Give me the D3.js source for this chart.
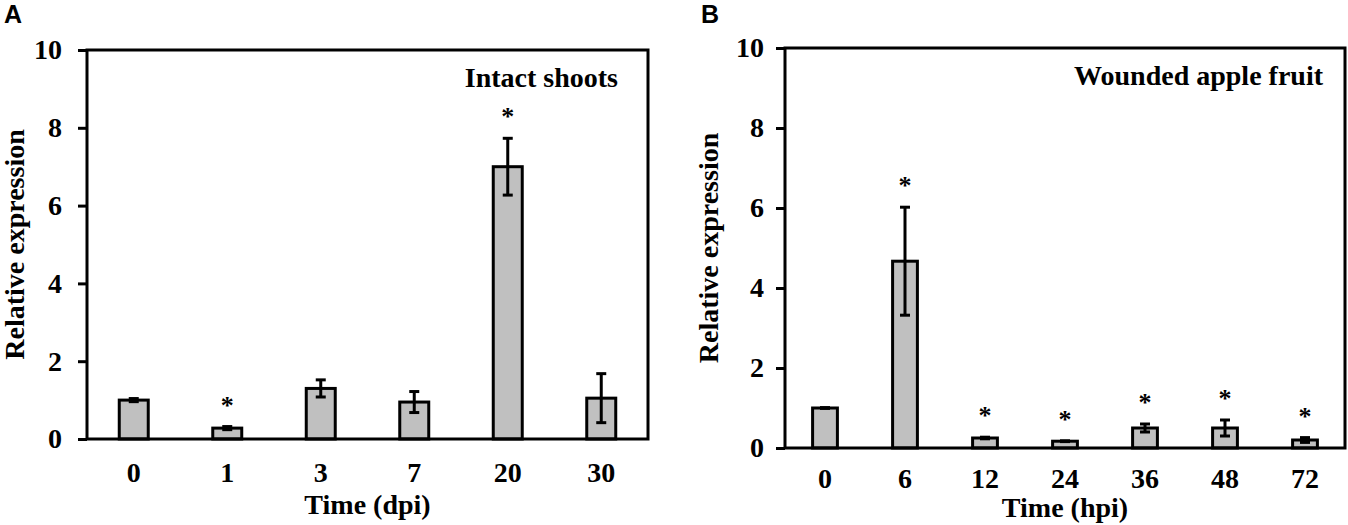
<!DOCTYPE html>
<html>
<head>
<meta charset="utf-8">
<script src="https://cdn.jsdelivr.net/npm/d3@7"></script>
<style>
  body { margin: 0; background: #fff; }
  text { font-family: "Liberation Serif", "Times New Roman", serif; font-weight: bold; fill: #000; }
  .panel-letter { font-family: "Liberation Sans", Arial, sans-serif; font-size: 25px; }
</style>
</head>
<body>
<div id="chart"></div>
<script>
// panel A - intact shoots, days post inoculation
const shootTimes = ['0', '1', '3', '7', '20', '30'];
const shootExpr = [1.0, 0.28, 1.3, 0.95, 7.0, 1.05];
const shootErr = [0.04, 0.04, 0.22, 0.27, 0.73, 0.63];
const shootSig = [false, true, false, false, true, false];

// panel B - wounded apple fruit, hours post inoculation
const fruitTimes = ['0', '6', '12', '24', '36', '48', '72'];
const fruitExpr = [1.0, 4.67, 0.25, 0.17, 0.5, 0.5, 0.2];
const fruitErr = [0.01, 1.35, 0.02, 0.01, 0.1, 0.2, 0.06];
const fruitSig = [false, true, true, true, true, true, true];

const yTicks = [0, 2, 4, 6, 8, 10];

const svg = d3.select('#chart')
              .append('svg')
              .attr('width', 1348)
              .attr('height', 525);

function drawPanel(p) {
    const g = svg.append('g');

    const x = d3.scaleBand()
                .domain(p.times)
                .range([p.left, p.right])
                .paddingInner(0.69)
                .paddingOuter(0.345);

    const y = d3.scaleLinear()
                .domain([0, 10])
                .range([p.bottom, p.top]);

    const rows = p.times.map((t, i) => ({t: t, v: p.expr[i], e: p.err[i], sig: p.sig[i]}));

    // bars
    g.append('g').selectAll('rect').data(rows)
     .join('rect')
     .attr('x', d => x(d.t))
     .attr('y', d => y(d.v))
     .attr('width', x.bandwidth())
     .attr('height', d => y(0) - y(d.v))
     .attr('fill', '#c0c0c0')
     .attr('stroke', '#000')
     .attr('stroke-width', 3);

    // error bars
    const err = g.append('g').selectAll('g').data(rows).join('g')
                 .attr('stroke', '#000')
                 .attr('stroke-width', 3);
    const cx = d => x(d.t) + x.bandwidth() / 2;
    err.append('line')
       .attr('x1', cx).attr('x2', cx)
       .attr('y1', d => y(d.v - d.e)).attr('y2', d => y(d.v + d.e));
    err.append('line')
       .attr('x1', d => cx(d) - 5).attr('x2', d => cx(d) + 5)
       .attr('y1', d => y(d.v + d.e)).attr('y2', d => y(d.v + d.e));
    err.append('line')
       .attr('x1', d => cx(d) - 5).attr('x2', d => cx(d) + 5)
       .attr('y1', d => y(d.v - d.e)).attr('y2', d => y(d.v - d.e));

    // significance stars
    g.append('g').selectAll('text').data(rows.filter(d => d.sig))
     .join('text')
     .attr('x', cx)
     .attr('y', d => y(d.v + d.e) - 26 + 13)
     .attr('text-anchor', 'middle')
     .style('font-size', '26px')
     .text('*');

    // frame
    g.append('rect')
     .attr('x', p.left).attr('y', p.top)
     .attr('width', p.right - p.left).attr('height', p.bottom - p.top)
     .attr('fill', 'none')
     .attr('stroke', '#000')
     .attr('stroke-width', 3);

    // y axis
    const yAxis = g.append('g')
                   .attr('transform', `translate(${p.left}, 0)`)
                   .call(d3.axisLeft(y).tickValues(yTicks).tickSize(9).tickPadding(p.tickPad));
    yAxis.select('.domain').remove();
    yAxis.selectAll('line').attr('stroke', '#000').attr('stroke-width', 3);
    yAxis.selectAll('text').style('font-size', '28px').attr('fill', '#000').attr('font-family', null);

    // x labels
    g.append('g').selectAll('text').data(p.times)
     .join('text')
     .attr('x', d => x(d) + x.bandwidth() / 2)
     .attr('y', p.bottom + p.tickLabelGap)
     .attr('text-anchor', 'middle')
     .style('font-size', '28px')
     .text(d => d);

    g.append('text')
     .attr('x', (p.left + p.right) / 2)
     .attr('y', p.xTitleY)
     .attr('text-anchor', 'middle')
     .style('font-size', '28px')
     .text(p.xTitle);

    g.append('text')
     .attr('transform', `translate(${p.yTitleX}, ${(p.top + p.bottom) / 2}) rotate(-90)`)
     .attr('text-anchor', 'middle')
     .style('font-size', '28px')
     .text('Relative expression');

    g.append('text')
     .attr('x', p.right - p.labelInset)
     .attr('y', p.top + 37)
     .attr('text-anchor', 'end')
     .style('font-size', '28px')
     .text(p.label);

    g.append('text')
     .attr('class', 'panel-letter')
     .attr('x', p.letterX)
     .attr('y', 23)
     .text(p.letter);
}

drawPanel({
    times: shootTimes, expr: shootExpr, err: shootErr, sig: shootSig,
    left: 87, right: 648, top: 50, bottom: 439,
    tickPad: 16, yTitleX: 24, labelInset: 30, tickLabelGap: 43, xTitleY: 514,
    xTitle: 'Time (dpi)', label: 'Intact shoots', letter: 'A', letterX: 4
});

drawPanel({
    times: fruitTimes, expr: fruitExpr, err: fruitErr, sig: fruitSig,
    left: 785, right: 1345, top: 48, bottom: 448,
    tickPad: 12, yTitleX: 718, labelInset: 22, tickLabelGap: 40, xTitleY: 517,
    xTitle: 'Time (hpi)', label: 'Wounded apple fruit', letter: 'B', letterX: 701
});
</script>
</body>
</html>
